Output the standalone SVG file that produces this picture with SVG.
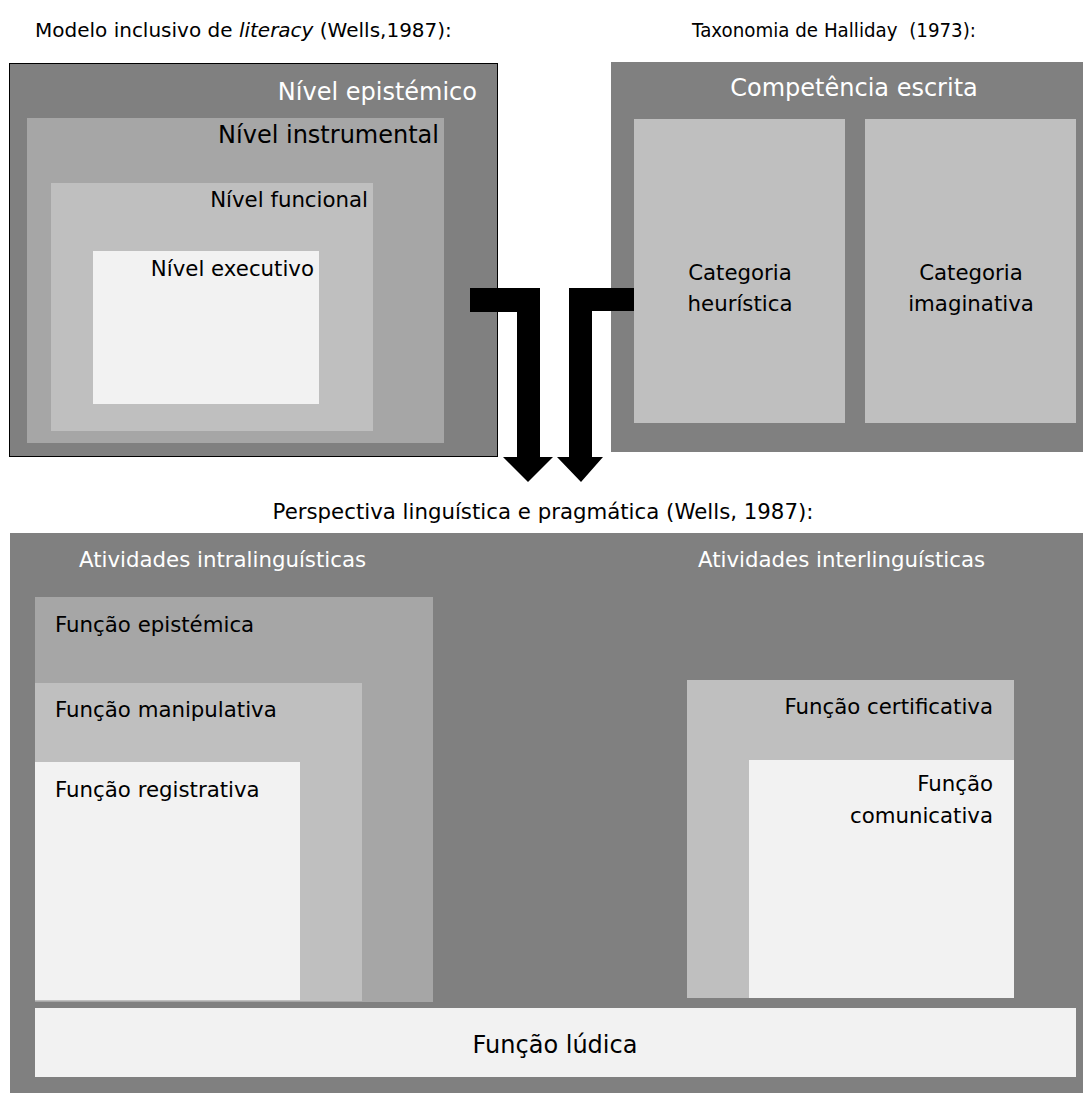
<svg xmlns="http://www.w3.org/2000/svg" width="1083" height="1093" viewBox="0 0 1083 1093">
<style>
text{font-family:"DejaVu Sans","Liberation Sans",sans-serif;fill:#000}
.w{fill:#fff}
.t{font-size:20px}
.h{font-size:24px}
.n{font-size:21.3px}
.c1{fill:#808080}
.c2{fill:#a6a6a6}
.c3{fill:#bfbfbf}
.c4{fill:#f2f2f2}
.e{text-anchor:end}
.m{text-anchor:middle}
</style>
<rect width="1083" height="1093" fill="#fff"/>
<text class="t" x="35" y="37">Modelo inclusivo de <tspan font-style="italic">literacy</tspan> (Wells,1987):</text>
<text class="t" x="692" y="37" style="white-space:pre" textLength="284" lengthAdjust="spacingAndGlyphs">Taxonomia de Halliday  (1973):</text>

<g id="wells-model">
<rect class="c1" x="9.5" y="63.5" width="488" height="393" stroke="#000" stroke-width="1"/>
<text class="h w e" x="477" y="100">Nível epistémico</text>
<g id="instrumental">
<rect class="c2" x="27" y="118" width="417" height="325"/>
<text class="h e" x="439" y="143">Nível instrumental</text>
</g>
<g id="funcional">
<rect class="c3" x="51" y="183" width="322" height="248"/>
<text class="n e" x="368" y="207">Nível funcional</text>
</g>
<g id="executivo">
<rect class="c4" x="93" y="251" width="226" height="153"/>
<text class="n e" x="314" y="276">Nível executivo</text>
</g>
</g>

<g id="halliday">
<rect class="c1" x="611" y="62" width="472" height="390"/>
<text class="h w m" x="854" y="96">Competência escrita</text>
<g id="heuristica">
<rect class="c3" x="634" y="119" width="211" height="304"/>
<text class="n m" x="740" y="280">Categoria</text>
<text class="n m" x="740" y="311">heurística</text>
</g>
<g id="imaginativa">
<rect class="c3" x="865" y="119" width="211" height="304"/>
<text class="n m" x="971" y="280">Categoria</text>
<text class="n m" x="971" y="311">imaginativa</text>
</g>
</g>

<g id="connectors" fill="#000">
<polygon points="470,288 540,288 540,457 553,457 528,482 503,457 517,457 517,312 470,312"/>
<polygon points="634,288 569,288 569,457 557,457 581,482 603,457 592,457 592,311 634,311"/>
</g>

<text class="n m" x="543" y="519">Perspectiva linguística e pragmática (Wells, 1987):</text>

<g id="perspectiva">
<rect class="c1" x="10" y="533" width="1073" height="560"/>
<text class="n w" x="79" y="567">Atividades intralinguísticas</text>
<text class="n w" x="698" y="567">Atividades interlinguísticas</text>
<g id="f-epistemica">
<rect class="c2" x="35" y="597" width="398" height="405"/>
<text class="n" x="55" y="632">Função epistémica</text>
</g>
<g id="f-manipulativa">
<rect class="c3" x="35" y="683" width="327" height="318"/>
<text class="n" x="55" y="717">Função manipulativa</text>
</g>
<g id="f-registrativa">
<rect class="c4" x="35" y="762" width="265" height="238"/>
<text class="n" x="55" y="797">Função registrativa</text>
</g>
<g id="f-certificativa">
<rect class="c3" x="687" y="680" width="327" height="318"/>
<text class="n e" x="993" y="714">Função certificativa</text>
</g>
<g id="f-comunicativa">
<rect class="c4" x="749" y="760" width="265" height="238"/>
<text class="n e" x="993" y="791">Função</text>
<text class="n e" x="993" y="823">comunicativa</text>
</g>
<g id="f-ludica">
<rect class="c4" x="35" y="1008" width="1041" height="69"/>
<text class="h m" x="555" y="1053">Função lúdica</text>
</g>
</g>
</svg>
